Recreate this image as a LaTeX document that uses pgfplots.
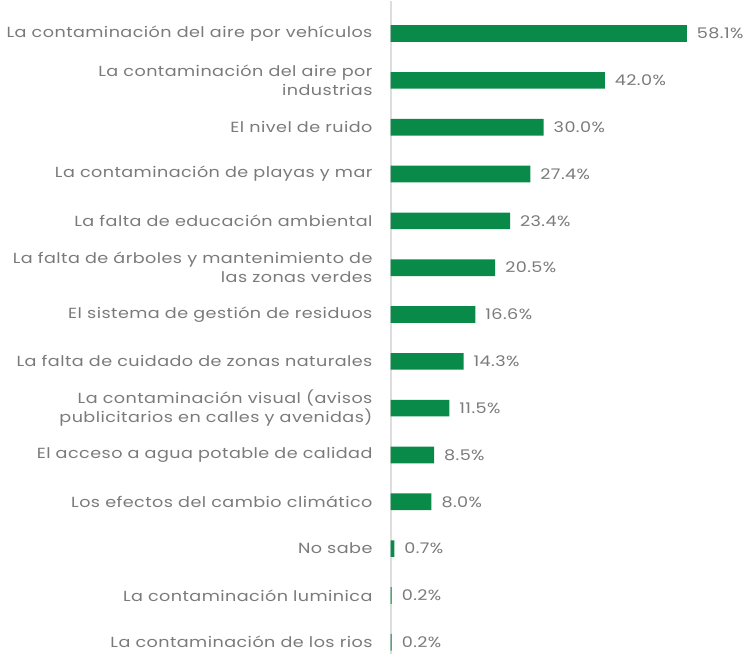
\documentclass[border=0pt]{standalone}
\usepackage{fontspec}
\setmainfont{Poppins}[FakeStretch=1.2,LetterSpace=3]
\usepackage{pgfplots}
\pgfplotsset{compat=1.18}
\definecolor{barg}{HTML}{0A8A48}
\definecolor{txtg}{HTML}{7A7A7A}
\definecolor{axg}{HTML}{DDDDDD}

\begin{document}
\begin{tikzpicture}
\begin{axis}[scale only axis,width=262pt,height=490pt,
 xbar,bar width=12.5pt,xmin=0,xmax=68.5,
 y dir=reverse,ymin=-0.7,ymax=13.25,
 ytick={0,...,13},
 yticklabels={La contaminación del aire por vehículos,
  {La contaminación del aire por\\industrias},
  El nivel de ruido,
  La contaminación de playas y mar,
  La falta de educación ambiental,
  {La falta de árboles y mantenimiento de\\las zonas verdes},
  El sistema de gestión de residuos,
  La falta de cuidado de zonas naturales,
  {La contaminación visual (avisos\\publicitarios en calles y avenidas)},
  El acceso a agua potable de calidad,
  Los efectos del cambio climático,
  No sabe,
  La contaminación luminica,
  La contaminación de los rios},
 yticklabel style={align=right,inner xsep=0pt,xshift=-13.5pt,font=\fontsize{11}{14.2}\selectfont,text=txtg},
 axis x line=none,axis y line=left,
 y axis line style={draw=axg,line width=1.2pt,-},
 major tick length=0pt,
 point meta=x,
 /pgf/number format/assume math mode=true,
 nodes near coords={\pgfmathprintnumber[fixed,precision=1,fixed zerofill,assume math mode=true]{\pgfplotspointmeta}\%},
 every node near coord/.append style={font=\fontsize{11}{13}\selectfont,text=txtg,xshift=4pt},
 clip=false]
\addplot[fill=barg,draw=none] coordinates {
 (58.1,0) (42.0,1) (30.0,2) (27.4,3) (23.4,4) (20.5,5) (16.6,6)
 (14.3,7) (11.5,8) (8.5,9) (8.0,10) (0.7,11) (0.2,12) (0.2,13)};
\end{axis}
\path (current bounding box.west) ++(-5pt,0) coordinate (padl);
\path (padl);
\end{tikzpicture}
\end{document}
